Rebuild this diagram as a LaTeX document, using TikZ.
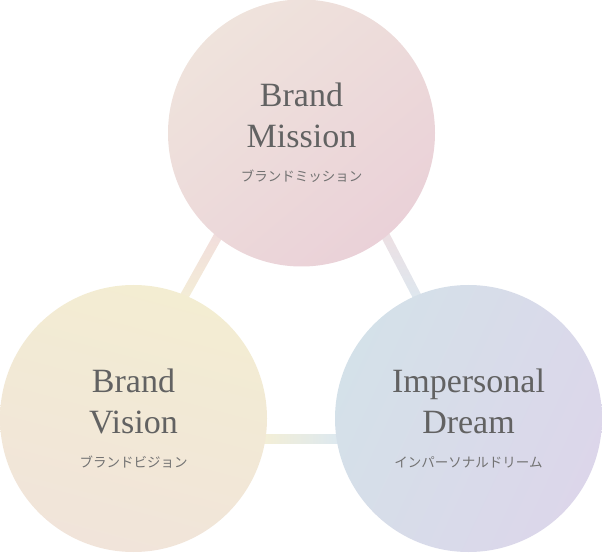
\documentclass[tikz,border=0pt]{standalone}
\usepackage{fontspec}
\setmainfont{Liberation Serif}
\newfontfamily\jpfont{Noto Sans CJK JP}
\usetikzlibrary{calc}

\definecolor{textgray}{HTML}{626262}
\definecolor{kanagray}{HTML}{727272}
% circle tints
\definecolor{missionA}{HTML}{EFE3DC}
\definecolor{missionB}{HTML}{EAD1D8}
\definecolor{visionA}{HTML}{F3EDD2}
\definecolor{visionB}{HTML}{F1E4DA}
\definecolor{dreamA}{HTML}{D4E1E9}
\definecolor{dreamB}{HTML}{DCD6EA}
% bar tints
\definecolor{barpink}{HTML}{F1DCDD}
\definecolor{barrose}{HTML}{EEDFE2}
\definecolor{baryellow}{HTML}{F4EFD6}
\definecolor{barblue}{HTML}{DCE8F0}

\newcommand{\jpsub}[1]{\\[-7pt]{\jpfont\fontsize{13.5}{15}\selectfont\color{kanagray}#1}}

\begin{document}
\begin{tikzpicture}[x=1pt,y=1pt,
    disc/.style={circle, minimum size=267pt, inner sep=0pt, align=center,
      text=textgray, font=\fontsize{34}{41}\selectfont}]
    \useasboundingbox (0,0) rectangle (602,552);

    % Coordinates for the ends of the three bars
    \coordinate (LT) at (222,323);
    \coordinate (LB) at (180,248);
    \coordinate (RT) at (382,323);
    \coordinate (RB) at (421,248);
    \coordinate (BL) at (262,113.5);
    \coordinate (BR) at (340,113.5);

    % Bars behind the circles
    \shade[top color=barpink, bottom color=baryellow]
      ($(LT)!4.5pt!90:(LB)$) -- ($(LB)!4.5pt!-90:(LT)$) --
      ($(LB)!4.5pt!90:(LT)$) -- ($(LT)!4.5pt!-90:(LB)$) -- cycle;
    \shade[top color=barrose, bottom color=barblue]
      ($(RT)!4.5pt!90:(RB)$) -- ($(RB)!4.5pt!-90:(RT)$) --
      ($(RB)!4.5pt!90:(RT)$) -- ($(RT)!4.5pt!-90:(RB)$) -- cycle;
    \shade[left color=baryellow, right color=barblue]
      ($(BL)+(0,-4.5)$) rectangle ($(BR)+(0,4.5)$);

    % The three circles
    \node[disc, top color=missionA, bottom color=missionB, shading angle=40]
      (mission) at (301.5,419) {Brand\\Mission\jpsub{ブランドミッション}};
    \node[disc, top color=visionA, bottom color=visionB, shading angle=-15]
      (vision) at (133.5,133.5) {Brand\\Vision\jpsub{ブランドビジョン}};
    \node[disc, top color=dreamA, bottom color=dreamB, shading angle=65]
      (dream) at (468.5,133.5) {Impersonal\\Dream\jpsub{インパーソナルドリーム}};
\end{tikzpicture}
\end{document}
